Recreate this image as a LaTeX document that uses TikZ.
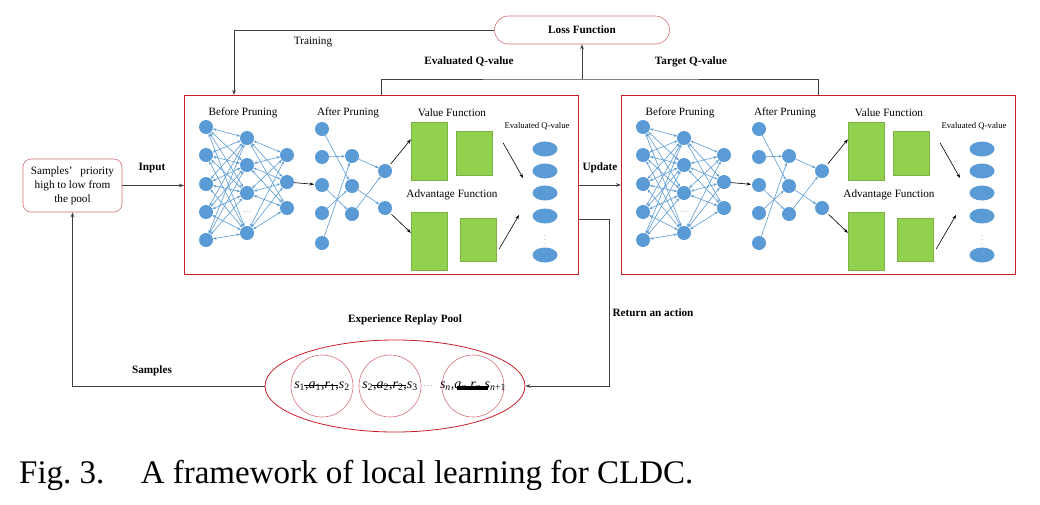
\documentclass[tikz,border=0pt]{standalone}
\usepackage{fontspec}
\setmainfont{Liberation Serif}
\usepackage{xcolor}
\definecolor{azul}{RGB}{91,155,213}
\definecolor{verde}{RGB}{146,208,80}
\definecolor{rojo}{RGB}{200,30,40}
\definecolor{rosa}{RGB}{215,110,120}
\definecolor{grisOscuro}{RGB}{64,64,64}
\usepackage{tikz}
\usetikzlibrary{arrows.meta,shapes.geometric,calc,positioning}
\tikzstyle{neurona}=[circle, fill=azul, minimum size=14pt, inner sep=0pt,
                    outer sep=0pt]
\tikzstyle{qnodo}=[ellipse, fill=azul, minimum width=25pt, minimum height=15pt,
                    inner sep=0pt]
\tikzstyle{conexion}=[azul, line width=0.6pt,
                    >={Stealth[length=3.5pt,width=2.6pt]}]
\tikzstyle{flecha}=[->, grisOscuro, line width=0.8pt,
                    >={Stealth[length=5pt,width=3.6pt]}]
\tikzstyle{linea}=[grisOscuro, line width=0.8pt]
\tikzstyle{negra}=[->, black, line width=0.6pt, shorten <=2pt,
                    >={Stealth[length=4.5pt,width=3.2pt]}]
\tikzstyle{bloque}=[draw=rojo, line width=1pt, minimum width=394pt,
                    minimum height=179pt, inner sep=0pt, anchor=north west]
\tikzstyle{caja}=[draw=rosa, line width=0.6pt, inner sep=0pt]
\tikzstyle{capa}=[fill=verde, draw=verde!85!black, line width=0.3pt]
\tikzstyle{etiqueta}=[font=\fontsize{11.2}{13}\selectfont\bfseries]
\tikzstyle{tupla}=[font=\fontsize{14}{16}\selectfont, inner sep=0pt]
\newcommand{\muestraVar}[2]{\textit{#1}\textsubscript{#2}}

\begin{document}
\begin{tikzpicture}[x=1pt,y=-1pt,font=\fontsize{11.2}{13}\selectfont]
    \useasboundingbox (0,0) rectangle (1040,504);

    %both networks, evaluated (L) and target (R)
    \foreach \b/\dx in {L/0,R/437}{
        \begin{scope}[xshift=\dx pt]
            \node (\b-box) [bloque] at (184,95) {};

            %before pruning
            \node (\b-tit1) at (243,113) {Before Pruning};
            \foreach \i/\y in {1/127,2/155,3/184,4/212,5/240}
                \node (\b-a\i) [neurona] at (206,\y) {};
            \foreach \i/\y in {1/138,2/165,3/193,4/233}
                \node (\b-b\i) [neurona] at (247,\y) {};
            \node (\b-bdots) [text=azul!70!gray, font=\fontsize{8}{8}\selectfont]
                at (247,212) {\dots};
            \foreach \i/\y in {1/155,2/182,3/208}
                \node (\b-c\i) [neurona] at (287,\y) {};
            \foreach \i in {1,...,5}
                \foreach \j in {1,...,4}
                    \draw [conexion,<->] (\b-a\i) -- (\b-b\j);
            \foreach \i in {1,...,4}
                \foreach \j in {1,...,3}
                    \draw [conexion,<->] (\b-b\i) -- (\b-c\j);

            %after pruning
            \node (\b-tit2) at (348,113) {After Pruning};
            \foreach \i/\y in {1/129,2/157,3/185,4/213,5/243}
                \node (\b-d\i) [neurona] at (322,\y) {};
            \foreach \i/\y in {1/156,2/186,3/214}
                \node (\b-e\i) [neurona] at (352,\y) {};
            \foreach \i/\y in {1/171,2/208}
                \node (\b-f\i) [neurona] at (385,\y) {};
            \foreach \i/\j in {1/2,2/1,3/3,4/2,5/1}
                \draw [conexion,->] (\b-d\i) -- (\b-e\j);
            \foreach \i/\j in {1/1,2/2,3/1}
                \draw [conexion,->] (\b-e\i) -- (\b-f\j);
            \draw [negra, shorten <=0pt, shorten >=1pt] (\b-c2) -- (\b-d3);

            %value and advantage streams
            \node (\b-tit3) at (452,113) {Value Function};
            \node (\b-tit4) at (452,195) {Advantage Function};
            \node (\b-vg) [capa, minimum width=36pt, minimum height=58pt,
                inner sep=0pt] at (429,151) {};
            \node (\b-vp) [capa, minimum width=36pt, minimum height=44pt,
                inner sep=0pt] at (474,153) {};
            \node (\b-ag) [capa, minimum width=36pt, minimum height=58pt,
                inner sep=0pt] at (429,241) {};
            \node (\b-ap) [capa, minimum width=36pt, minimum height=43pt,
                inner sep=0pt] at (478,239.5) {};
            \draw [negra] (\b-f1) -- ($(\b-vg.north west)!0.3!(\b-vg.south west)$);
            \draw [negra] (\b-f2) -- ($(\b-ag.north west)!0.36!(\b-ag.south west)$);

            %output Q-values
            \node (\b-tit5) [font=\fontsize{8.7}{10}\selectfont] at (537,126)
                {Evaluated Q-value};
            \foreach \i/\y in {1/149,2/171,3/193,4/216,5/255}
                \node (\b-q\i) [qnodo] at (545,\y) {};
            \node (\b-qdots) [text=gray, font=\fontsize{7}{7}\selectfont]
                at (545,237) {$\vdots$};
            \coordinate (\b-qv) at (523,178);
            \coordinate (\b-qa) at (519,215);
            \draw [negra, shorten <=0pt] ([shift={(11,-10)}]\b-vp.east) -- (\b-qv);
            \draw [negra, shorten <=0pt] ([shift={(3,9.5)}]\b-ap.east) -- (\b-qa);
        \end{scope}
    }

    %loss function and training loop
    \node (loss) [caja, rounded corners=14pt, minimum width=175pt,
        minimum height=28pt, etiqueta] at (582,30) {Loss Function};
    \draw [flecha] (loss.west) -| ([xshift=50pt]L-box.north west);
    \coordinate (union) at (582,79);
    \draw [linea] ([xshift=197pt]L-box.north west) |- (union)
        -| ([xshift=197pt]R-box.north west);
    \draw [flecha] (union) -- (loss.south);
    \node (lblTraining) at (313,42) {Training};
    \node (lblEvaluado) [etiqueta] at (469,62) {Evaluated Q-value};
    \node (lblObjetivo) [etiqueta] at (691,62) {Target Q-value};

    %samples from the pool
    \node (muestras) [caja, rounded corners=8pt, minimum width=99pt,
        minimum height=53pt, align=center,
        font=\fontsize{11.2}{14}\selectfont] at (72.5,185.5)
        {Samples’\hspace{0.7em}priority\\high to low from\\the pool};
    \draw [flecha] (muestras.east) -- (muestras.east -| L-box.west);
    \node (lblInput) [etiqueta] at (152,168) {Input};
    \draw [flecha] (L-box.east) -- (R-box.west);
    \node (lblUpdate) [etiqueta] at (600,168) {Update};

    %experience replay pool
    \node (pool) [ellipse, draw=rojo, line width=0.8pt, minimum width=260pt,
        minimum height=92pt, inner sep=0pt] at (395,386) {};
    \node (lblPool) [etiqueta] at (405,320) {Experience Replay Pool};
    \foreach \i/\x in {1/322,2/390,3/473}
        \node (muestra\i) [circle, caja, minimum size=62pt] at (\x,386) {};
    \node (tup1) [tupla] at (muestra1)
        {\muestraVar{s}{1},\muestraVar{a}{1},\muestraVar{r}{1},\muestraVar{s}{2}};
    \node (tup2) [tupla] at (muestra2)
        {\muestraVar{s}{2},\muestraVar{a}{2},\muestraVar{r}{2},\muestraVar{s}{3}};
    \node (tup3) [tupla] at (muestra3)
        {\muestraVar{s}{\textit{n}},\muestraVar{a}{\textit{n}},\muestraVar{r}{\textit{n}},\muestraVar{s}{\textit{n}+1}};
    \draw [black, line width=0.6pt] ([shift={(-18,-3)}]tup1.base) -- ([shift={(16,-3)}]tup1.base);
    \draw [black, line width=0.6pt] ([shift={(-18,-3)}]tup2.base) -- ([shift={(16,-3)}]tup2.base);
    \draw [black, line width=4pt] ([shift={(-16,0)}]tup3.base) -- ([shift={(15,0)}]tup3.base);
    \node (puntosPool) [text=azul!60!gray, font=\fontsize{9}{9}\selectfont]
        at (428,386) {\dots};

    \draw [flecha] (L-box.east |- 0,219) -- ++(30,0) |- (pool.east);
    \node (lblAccion) [etiqueta] at (653,313) {Return an action};
    \draw [flecha] (pool.west) -| (muestras.south);
    \node (lblSamples) [etiqueta] at (152,371) {Samples};

    %caption
    \node (caption) [anchor=base west, inner sep=0pt,
        font=\fontsize{33}{36}\selectfont] at (19,483)
        {Fig.~3.\hspace{1.1em}A framework of local learning for CLDC.};
\end{tikzpicture}
\end{document}
